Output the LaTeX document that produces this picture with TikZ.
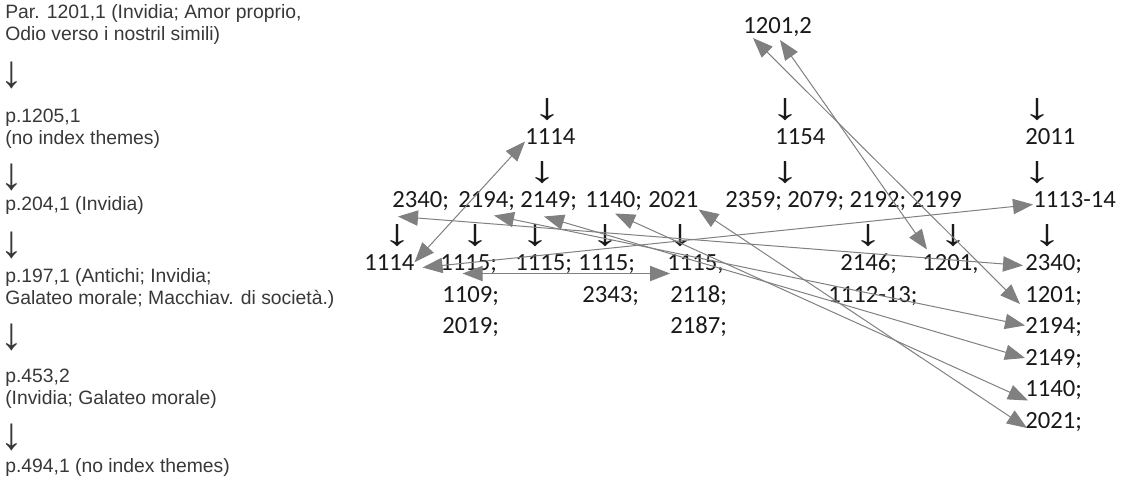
\documentclass[tikz,border=0pt]{standalone}
\usepackage{fontspec}
\setmainfont{Liberation Sans}
\newfontfamily\numfont{Carlito}
\usetikzlibrary{arrows.meta,calc}

\tikzset{
  lefttext/.style={anchor=west, inner sep=0pt, text=black!78, align=left,
    font=\fontsize{14.5}{16.5}\selectfont},
  leftarr/.style={inner sep=0pt, text=black!78, font=\fontsize{34}{34}\selectfont},
  num/.style={anchor=west, inner sep=0pt, text=black!90,
    font=\numfont\fontsize{18.5}{22}\selectfont, text height=0.63em, text depth=0.12em},
  darr/.style={inner sep=0pt, text=black!90, font=\fontsize{28}{28}\selectfont},
  link/.style={draw=black!50, line width=0.75pt,
    {Triangle[length=15pt,width=11.5pt]}-{Triangle[length=15pt,width=11.5pt]}},
}
\newcommand{\darrow}{\scalebox{1.5}[1]{↓}}

\begin{document}
\begin{tikzpicture}[x=0.75pt, y=-0.75pt]
\useasboundingbox (0,0) rectangle (1136,482);

% Left column
\node (l1) at (5,24) [lefttext]{Par. 1201,1 (Invidia; Amor proprio,\\Odio verso i nostril simili)};
\node (a1) at (12,75) [leftarr]{↓};
\node (l2) at (5,128.5) [lefttext]{p.1205,1\\(no index themes)};
\node (a2) at (12,177) [leftarr]{↓};
\node (l3) at (5,205) [lefttext]{p.204,1 (Invidia)};
\node (a3) at (12,245) [leftarr]{↓};
\node (l4) at (5,288) [lefttext]{p.197,1 (Antichi; Invidia;\\Galateo morale; Macchiav. di società.)};
\node (a4) at (12,337) [leftarr]{↓};
\node (l5) at (5,389) [lefttext]{p.453,2\\(Invidia; Galateo morale)};
\node (a5) at (12,437) [leftarr]{↓};
\node (l6) at (5,467) [lefttext]{p.494,1 (no index themes)};

% Top
\node (top) at (743,30) [num]{1201,2};

% Arrows above and below row 1
\foreach \x/\n in {547/a, 785/b, 1037/c}
  \node (d0\n) at (\x,110) [darr]{\darrow};
\foreach \x/\n in {542/a, 785/b, 1037/c}
  \node (d1\n) at (\x,173) [darr]{\darrow};

% Row 1
\node (r1a) at (525,141.5) [num]{1114};
\node (r1b) at (775,141.5) [num]{1154};
\node (r1c) at (1025,141.5) [num]{2011};

% Row 2
\node (r2a) at (392,204.5) [num]{2340;};
\node (r2b) at (458,204.5) [num]{2194;};
\node (r2c) at (520,204.5) [num]{2149;};
\node (r2d) at (585,204.5) [num]{1140;};
\node (r2e) at (648,204.5) [num]{2021};
\node (r2f) at (725,204.5) [num]{2359; 2079; 2192; 2199};
\node (r2g) at (1033,204.5) [num]{1113-14};

\foreach \x/\n in {397/a, 475/b, 535/c, 605/d, 680/e, 868/f, 953/g, 1047/h}
  \node (d2\n) at (\x,236) [darr]{\darrow};

% Row 3 and below
\node (r3a) at (364,267.5) [num]{1114};
\node (r3b) at (440,267.5) [num]{1115;};
\node (r3c) at (515,267.5) [num]{1115;};
\node (r3d) at (578,267.5) [num]{1115;};
\node (r3e) at (667,267.5) [num]{1115,};
\node (r3f) at (840,267.5) [num]{2146;};
\node (r3g) at (922,267.5) [num]{1201,};

\node (r4a) at (442,299) [num]{1109;};
\node (r4b) at (582,299) [num]{2343;};
\node (r4c) at (670,299) [num]{2118;};
\node (r4d) at (828,299) [num]{1112-13;};

\node (r5a) at (442,330.5) [num]{2019;};
\node (r5b) at (670,330.5) [num]{2187;};

% Right column
\node (c1) at (1025,267.5) [num]{2340;};
\node (c2) at (1025,299) [num]{1201;};
\node (c3) at (1025,330.5) [num]{2194;};
\node (c4) at (1025,362) [num]{2149;};
\node (c5) at (1025,393.5) [num]{1140;};
\node (c6) at (1025,425) [num]{2021;};

% Links
\draw[link] (r1a.west) -- (r3a.north east);
\draw[link] (r2g.west) -- ($(r3a.east)+(8,0)$);
\draw[link] ($(r3b.center)+(-6,6)$) -- ($(r3e.west)+(3,6)$);
\draw[link] ($(r2a.west)+(6,12)$) -- ($(c1.west)+(-2,-2)$);
\draw[link] ($(r2b.west)+(36,11)$) -- ($(c3.west)+(0,-5)$);
\draw[link] ($(r2c.west)+(24,12)$) -- ($(c4.west)+(0,-4)$);
\draw[link] ($(r2d.west)+(30,9)$) -- ($(c5.west)+(3,7)$);
\draw[link] ($(r2e.east)+(0,5)$) -- ($(c6.west)+(2,3)$);
\draw[link] ($(top.west)+(10,8)$) -- ($(c2.west)+(-5,5)$);
\draw[link] ($(top.west)+(37,10)$) -- ($(r3g.west)+(5,-18)$);
\end{tikzpicture}
\end{document}
